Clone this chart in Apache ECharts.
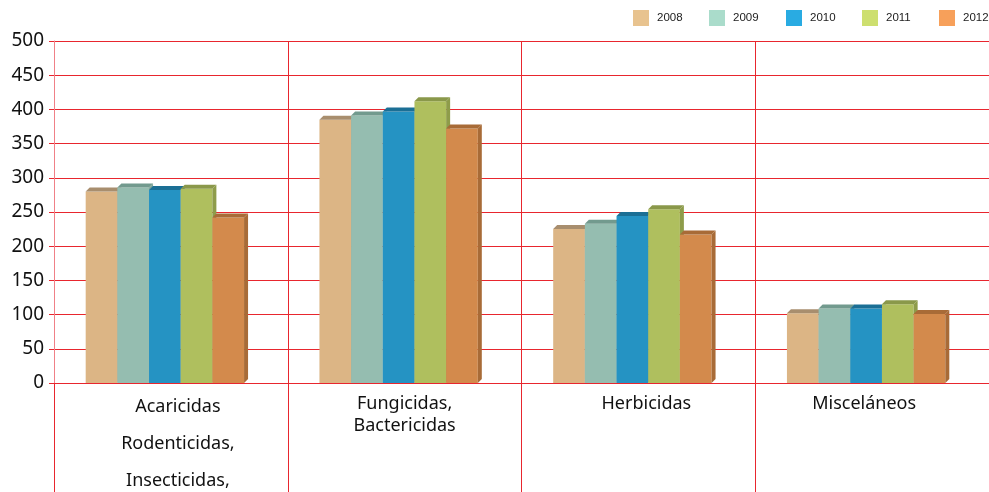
<!DOCTYPE html>
<html>
<head>
<meta charset="utf-8">
<script src="https://cdn.jsdelivr.net/npm/echarts@6/dist/echarts.min.js"></script>
<style>html,body{margin:0;padding:0;background:#fff}#c{width:989px;height:492px}</style>
</head>
<body>
<div id="c"></div>
<script>
const categories = ['Acaricidas\nRodenticidas,\nInsecticidas,', 'Fungicidas,\nBactericidas', 'Herbicidas', 'Misceláneos'];
const years = ['2008', '2009', '2010', '2011', '2012'];
const v2008 = [280, 385, 225, 102];
const v2009 = [286, 391, 233, 109];
const v2010 = [282, 397, 244, 109];
const v2011 = [284, 412, 254, 115];
const v2012 = [242, 372, 217, 101];
const seriesValues = [v2008, v2009, v2010, v2011, v2012];

const legendColors = ['#e8c38f', '#aadccb', '#29abe2', '#cddf6f', '#f7a05a'];
const legendLefts = [633, 709, 786, 862, 939];
const frontColors = ['#dcb585', '#95bdb0', '#2593c3', '#afbf5e', '#d38a4c'];
const topColors = ['#a88e6e', '#729a8e', '#1b6f95', '#8a984a', '#a86b37'];
const sideColors = ['#b0946c', '#7da497', '#1e7aa3', '#8e9c4a', '#a86b37'];
const RED = '#e8262e';

function makeRender(si) {
  return function (params, api) {
    const c = api.value(0), v = api.value(1);
    const top = api.coord([c, v]);
    const base = api.coord([c, 0]);
    const band = api.size([1, 0])[0];
    const bw = band * 0.1355;
    const dx = 4, dy = 4;
    const x0 = top[0] - 6 + (si - 2.5) * bw;
    const x1 = x0 + bw;
    const ty = top[1], by = base[1];
    return {
      type: 'group',
      children: [
        { type: 'rect', shape: { x: x0, y: ty, width: bw, height: by - ty }, style: { fill: frontColors[si] } },
        { type: 'polygon', shape: { points: [[x0, ty], [x0 + dx, ty - dy], [x1 + dx, ty - dy], [x1, ty]] }, style: { fill: topColors[si] } },
        { type: 'polygon', shape: { points: [[x1, ty], [x1 + dx, ty - dy], [x1 + dx, by - dy], [x1, by]] }, style: { fill: sideColors[si] } }
      ]
    };
  };
}

const chart = echarts.init(document.getElementById('c'), null, { renderer: 'canvas' });
const option = {
  animation: false,
  backgroundColor: '#fff',
  legend: years.map((y, i) => ({
    left: legendLefts[i], top: 10,
    itemWidth: 16, itemHeight: 16, itemGap: 0,
    icon: 'rect',
    padding: 0,
    textStyle: { fontFamily: 'Liberation Sans Narrow, Liberation Sans, sans-serif', fontSize: 11.5, color: '#222', padding: [0, 0, 0, 3] },
    data: [y]
  })),
  grid: { left: 54, top: 41, width: 938.7, bottom: 109, containLabel: false },
  xAxis: {
    type: 'category',
    data: categories,
    boundaryGap: true,
    axisLine: { show: true, lineStyle: { color: RED, width: 1 } },
    axisTick: { show: true, interval: 0, length: 115, lineStyle: { color: RED, width: 1 } },
    splitLine: { show: true, interval: 0, lineStyle: { color: RED, width: 1 } },
    axisLabel: {
      interval: 0, margin: 5,
      color: '#111',
      fontFamily: 'Noto Sans, sans-serif', fontSize: 18,
      formatter: function (val, idx) {
        const lines = val.split('\n');
        if (idx === 0) return lines.map(l => '{a|' + l + '}').join('\n');
        const st = ['a', 'b', 'c', 'd'][idx];
        return lines.map((l, i) => '{' + (i === 0 ? st + '1' : 'n') + '|' + l + '}').join('\n');
      },
      rich: {
        a: { lineHeight: 37, fontSize: 18, fontFamily: 'Noto Sans, sans-serif', color: '#111', padding: [0, 0, 0, 14] },
        b1: { lineHeight: 25, fontSize: 18, fontFamily: 'Noto Sans, sans-serif', color: '#111', padding: [6, 0, 0, 0] },
        c1: { lineHeight: 25, fontSize: 18, fontFamily: 'Noto Sans, sans-serif', color: '#111', padding: [6, 0, 0, 16] },
        d1: { lineHeight: 25, fontSize: 18, fontFamily: 'Noto Sans, sans-serif', color: '#111', padding: [6, 16, 0, 0] },
        n: { lineHeight: 25, fontSize: 18, fontFamily: 'Noto Sans, sans-serif', color: '#111' }
      }
    }
  },
  yAxis: {
    type: 'value',
    min: 0, max: 500, interval: 50,
    axisLine: { show: true, lineStyle: { color: '#f08087', width: 1 } },
    axisTick: { show: true, length: 5, lineStyle: { color: RED } },
    splitLine: { show: true, lineStyle: { color: RED, width: 1 } },
    axisLabel: { margin: 10, color: '#111', fontFamily: 'Noto Sans, sans-serif', fontSize: 19 }
  },
  series: years.map((y, si) => ({
    name: y,
    type: 'custom',
    clip: false,
    itemStyle: { color: legendColors[si] },
    encode: { x: 0, y: 1 },
    renderItem: makeRender(si),
    data: seriesValues[si].map((v, i) => [i, v])
  }))
};
chart.setOption(option);
</script>
</body>
</html>
